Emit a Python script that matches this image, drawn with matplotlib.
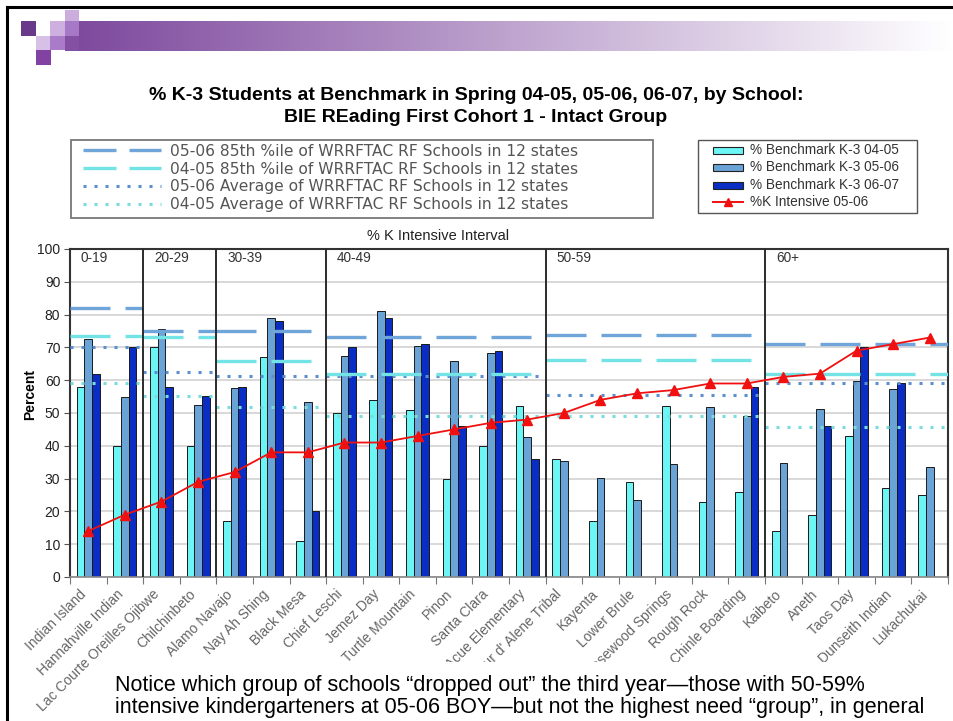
import numpy as np
import matplotlib
matplotlib.use("Agg")
import matplotlib.pyplot as plt
from matplotlib.patches import Rectangle
from matplotlib.lines import Line2D
import matplotlib.transforms as mtransforms

# ---------------- data ----------------
schools = ["Indian Island", "Hannahville Indian", "Lac Courte Oreilles Ojibwe",
           "Chilchinbeto", "Alamo Navajo", "Nay Ah Shing", "Black Mesa",
           "Chief Leschi", "Jemez Day", "Turtle Mountain", "Pinon", "Santa Clara",
           "Acue Elementary", "Coeur d' Alene Tribal", "Kayenta", "Lower Brule",
           "Greasewood Springs", "Rough Rock", "Chinle Boarding", "Kaibeto",
           "Aneth", "Taos Day", "Dunseith Indian", "Lukachukai"]
bench_0405 = [58, 40, 70, 40, 17, 67, 11, 50, 54, 51, 30, 40, 52, 36, 17, 29, 52, 23, 26, 14, 19, 43, 27, 25]
bench_0506 = [72.5, 55, 75.5, 52.5, 57.5, 79, 53.5, 67.5, 81, 70.5, 65.8, 68.2, 42.7, 35.4, 30.2, 23.6,
              34.6, 51.9, 49.1, 34.9, 51.2, 59.8, 57.3, 33.6]
bench_0607 = [62, 70, 58, 55.2, 58, 78, 20, 70.2, 79, 70.9, 46, 69, 36.1, np.nan, np.nan, np.nan,
              np.nan, np.nan, 58, np.nan, 46.1, 70.2, 59, np.nan]
k_intensive = [14, 19, 23, 29, 32, 38, 38, 41, 41, 43, 45, 47, 48, 50, 54, 56, 57, 59, 59, 61, 62, 69, 71, 73]

group_labels = ["0-19", "20-29", "30-39", "40-49", "50-59", "60+"]
group_sizes = [2, 2, 3, 6, 6, 5]
p85_0506 = [82, 75, 75, 73.2, 73.8, 71]
p85_0405 = [73.4, 73.2, 66, 62, 66.1, 61.9]
avg_0506 = [70, 62.6, 61.3, 61.2, 55.6, 59]
avg_0405 = [59, 55.2, 51.7, 49.1, 49.1, 45.8]

yticks = list(range(0, 101, 10))

# ---------------- styles ----------------
C_CYAN = "#6CF5F5"
C_MID = "#6AA3D6"
C_DARK = "#0A2EC4"
C_RED = "#F01010"
L_P85_0506 = "#6FA5D8"
L_P85_0405 = "#74E3E6"
L_AVG_0506 = "#5B8FD0"
L_AVG_0405 = "#7ADCDC"
ARIAL = "Liberation Sans"

W, H = 954, 721
fig = plt.figure(figsize=(W / 100, H / 100), dpi=100)
fig.patch.set_facecolor("white")


def P(x, y):
    return (x / W, 1 - y / H)


def frect(x0, y0, x1, y1, color, z=1, **kw):
    r = Rectangle(P(x0, y1), (x1 - x0) / W, (y1 - y0) / H, transform=fig.transFigure,
                  facecolor=color, edgecolor=kw.pop("ec", "none"), zorder=z, **kw)
    fig.add_artist(r)
    return r


# ---------------- slide decoration ----------------
fig.add_artist(Line2D([7 / W, 1], [1 - 7 / H] * 2, transform=fig.transFigure, color="black", lw=2.2))
fig.add_artist(Line2D([7 / W] * 2, [1 - 7 / H, 0], transform=fig.transFigure, color="black", lw=2.2))

grad_ax = fig.add_axes([79 / W, 1 - 51 / H, (950 - 79) / W, 30 / H])
g = np.linspace(0, 1, 512)
c0 = np.array([0x7E, 0x4A, 0x9E]) / 255.0
img = (c0[None, :] * (1 - g[:, None]) + g[:, None])[None, :, :]
grad_ax.imshow(img, aspect="auto", extent=[0, 1, 0, 1])
grad_ax.set_axis_off()

frect(21, 21, 36, 36, "#6A3A8A")
frect(50, 21, 65, 36, "#CDB0DF")
frect(65, 10, 79, 21, "#CBAEDD")
frect(65, 21, 79, 36, "#A678C6")
frect(65, 36, 79, 51, "#8350A3")
frect(36, 36, 50, 50, "#D6C0E6")
frect(50, 36, 65, 50, "#A97BC8")
frect(36, 50, 51, 65, "#8242A2")

# ---------------- title ----------------
fig.text(*P(476, 96), "% K-3 Students at Benchmark in Spring 04-05, 05-06, 06-07, by School:",
         ha="center", va="center", fontsize=14, fontweight="bold", family=ARIAL)
fig.text(*P(476, 118), "BIE REading First Cohort 1 - Intact Group",
         ha="center", va="center", fontsize=14, fontweight="bold", family=ARIAL)

# ---------------- left legend (reference lines) ----------------
frect(71, 140, 653, 218, "white", z=2, ec="#777777", lw=1.3)
left_items = [
    ("05-06 85th %ile of WRRFTAC RF Schools in 12 states", L_P85_0506, "dash"),
    ("04-05 85th %ile of WRRFTAC RF Schools in 12 states", L_P85_0405, "dash"),
    ("05-06 Average of WRRFTAC RF Schools in 12 states", L_AVG_0506, "dot"),
    ("04-05 Average of WRRFTAC RF Schools in 12 states", L_AVG_0405, "dot"),
]
rows_y = [150, 168, 186, 204]
for (lab, col, sty), yy in zip(left_items, rows_y):
    if sty == "dash":
        for xa, xb in [(83, 116), (129, 161)]:
            fig.add_artist(Line2D([xa / W, xb / W], [1 - yy / H] * 2, transform=fig.transFigure,
                                  color=col, lw=2.4, solid_capstyle="butt", zorder=3))
    else:
        fig.add_artist(Line2D([83 / W, 161 / W], [1 - yy / H] * 2, transform=fig.transFigure,
                              color=col, lw=2.2, linestyle=(0, (1, 2.6)), zorder=3))
    fig.text(*P(170, yy + 1), lab, ha="left", va="center", fontsize=11.2, color="#555555",
             family="DejaVu Sans", zorder=3)

# ---------------- right legend (bars) ----------------
frect(698, 140, 917, 213, "white", z=2, ec="#555555", lw=1.0)
right_rows = [150, 167, 185, 202]
right_items = [("% Benchmark K-3 04-05", C_CYAN), ("% Benchmark K-3 05-06", C_MID),
               ("% Benchmark K-3 06-07", C_DARK)]
for (lab, col), yy in zip(right_items, right_rows[:3]):
    frect(713, yy - 3.5, 743, yy + 3.5, col, z=3, ec="#222222", lw=0.8)
    fig.text(*P(750, yy), lab, ha="left", va="center", fontsize=9.8, color="#333333",
             family=ARIAL, zorder=3)
yy = right_rows[3]
fig.add_artist(Line2D([713 / W, 743 / W], [1 - yy / H] * 2, transform=fig.transFigure,
                      color=C_RED, lw=1.4, zorder=3))
fig.add_artist(Line2D([728 / W], [1 - yy / H], transform=fig.transFigure, color=C_RED,
                      marker="^", markersize=6, lw=0, zorder=4))
fig.text(*P(750, yy), "%K Intensive 05-06", ha="left", va="center", fontsize=9.8,
         color="#333333", family=ARIAL, zorder=3)

fig.text(*P(438, 236), "% K Intensive Interval", ha="center", va="center", fontsize=10.5,
         color="#222222", family=ARIAL)

# ---------------- main axes ----------------
ax = fig.add_axes([70 / W, 1 - 577 / H, (948 - 70) / W, (577 - 249) / H])
n = len(schools)
x = np.arange(n) + 0.5
bw = 0.21
ax.bar(x - bw, bench_0405, bw, color=C_CYAN, edgecolor="#1a1a1a", linewidth=0.7, zorder=2)
ax.bar(x, bench_0506, bw, color=C_MID, edgecolor="#1a1a1a", linewidth=0.7, zorder=2)
ax.bar(x + bw, bench_0607, bw, color=C_DARK, edgecolor="#1a1a1a", linewidth=0.7, zorder=2)

bounds = np.concatenate([[0], np.cumsum(group_sizes)])
for gi in range(len(group_sizes)):
    a, b = bounds[gi], bounds[gi + 1]
    ax.plot([a, b], [avg_0405[gi]] * 2, color=L_AVG_0405, lw=2.2, ls=(0, (1, 2.6)), zorder=3)
    ax.plot([a, b], [avg_0506[gi]] * 2, color=L_AVG_0506, lw=2.2, ls=(0, (1, 2.6)), zorder=3)
    ax.plot([a, b], [p85_0405[gi]] * 2, color=L_P85_0405, lw=2.4, ls=(0, (12, 4.5)), zorder=3)
    ax.plot([a, b], [p85_0506[gi]] * 2, color=L_P85_0506, lw=2.4, ls=(0, (12, 4.5)), zorder=3)
    if gi > 0:
        ax.axvline(a, color="#2b2b2b", lw=1.4, zorder=4)
    ax.text(a + 0.3, 97.3, group_labels[gi], ha="left", va="center", fontsize=9.8,
            color="#333333", family=ARIAL, zorder=5)

ax.plot(x, k_intensive, color=C_RED, lw=1.3, marker="^", markersize=6.5, zorder=6)

ax.set_xlim(0, n)
ax.set_ylim(0, 100)
ax.set_yticks(yticks)
ax.set_yticklabels([str(v) for v in yticks], fontsize=10, family=ARIAL, color="#222222")
ax.yaxis.grid(True, color="#d2d2d2", lw=1.2)
ax.set_axisbelow(True)
ax.tick_params(axis="y", length=4, color="#555555", pad=3)

ax.set_xticks(np.arange(n + 1))
ax.set_xticklabels([])
ax.tick_params(axis="x", which="major", length=5, color="#777777")
ax.set_xticks(x, minor=True)
ax.set_xticklabels(schools, minor=True, rotation=45, ha="right", va="center",
                   rotation_mode="anchor", fontsize=10, family=ARIAL, color="#666666")
ax.tick_params(axis="x", which="minor", length=0, pad=11)
offset = mtransforms.ScaledTranslation(-4 / 100, 0, fig.dpi_scale_trans)
for lbl in ax.get_xticklabels(minor=True):
    lbl.set_transform(lbl.get_transform() + offset)

for s in ["left", "top", "right"]:
    ax.spines[s].set_color("#333333")
    ax.spines[s].set_linewidth(1.5)
ax.spines["bottom"].set_color("#888888")
ax.spines["bottom"].set_linewidth(1.2)

fig.text(*P(30, 395), "Percent", rotation=90, ha="center", va="center", fontsize=10,
         fontweight="bold", family=ARIAL)

# ---------------- bottom text box ----------------
frect(108, 662, 954, 721, "white", z=10)
fig.text(*P(115, 685), "Notice which group of schools \u201cdropped out\u201d the third year\u2014those with 50-59%",
         ha="left", va="center", fontsize=15.5, family=ARIAL, zorder=11)
fig.text(*P(115, 707), "intensive kindergarteners at 05-06 BOY\u2014but not the highest need \u201cgroup\u201d, in general",
         ha="left", va="center", fontsize=15.5, family=ARIAL, zorder=11)

fig.savefig("out.png", dpi=100)
